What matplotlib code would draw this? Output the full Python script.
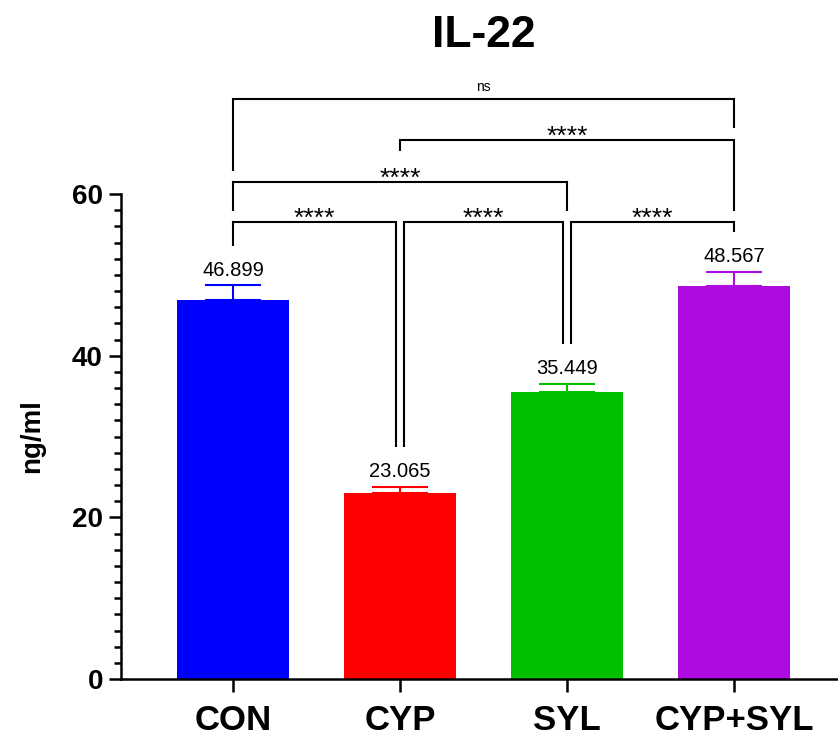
"""
    Bar chart of IL-22 levels (ng/ml) for four groups with
    significance brackets drawn between the groups.
"""

import numpy as np
import matplotlib
matplotlib.use("Agg")
import matplotlib.pyplot as plt
from matplotlib.ticker import MultipleLocator


plt.rcParams['font.family'] = ['Liberation Sans', 'DejaVu Sans']

# data
groups = ['CON', 'CYP', 'SYL', 'CYP+SYL']
means = [46.899, 23.065, 35.449, 48.567]
sds = [1.8, 0.7, 1.1, 1.8]
colors = ['#0000FF', '#FF0000', '#00C000', '#AD0BE0']

# comparisons and their labels
pairs = [(0, 1), (1, 2), (2, 3), (0, 2), (1, 3), (0, 3)]
stars = ['****', '****', '****', '****', '****', 'ns']

# bracket layout (heights in data units, leg offsets in bar units)
bracket_y = [56.5, 56.5, 56.5, 61.5, 66.7, 71.8]
upper_legs = {3: (57.9, 57.9), 4: (65.3, 57.9), 5: (62.9, 68.2)}
leg_shift = 0.024
leg_gap = 4.9


def draw_bracket(ax, x1, x2, y, b1, b2, label):
    """
    Draws one significance bracket from x1 to x2 at height y,
    with legs going down to b1 and b2, and the label above it.
    """
    ax.plot([x1, x1, x2, x2], [b1, y, y, b2], color='black', lw=1.5,
            clip_on=False, solid_joinstyle='miter', solid_capstyle='butt')
    if label == 'ns':
        ax.text((x1 + x2) / 2, y + 1.0, label, ha='center', va='baseline',
                fontsize=10, clip_on=False)
    else:
        ax.text((x1 + x2) / 2, y - 0.45, label, ha='center', va='baseline',
                fontsize=19, clip_on=False)


fig = plt.figure(figsize=(8.38, 7.4), dpi=100)
ax = fig.add_axes([0.1444, 0.0824, 0.8556, 0.6554])

x = np.arange(len(groups))
ax.bar(x, means, width=0.67, color=colors, zorder=2)
for xi, m, s, c in zip(x, means, sds, colors):
    ax.errorbar(xi, m, yerr=[[0], [s]], color=c, capsize=20, elinewidth=1.5,
                capthick=1.5, fmt='none', zorder=3)
    ax.annotate(f"{m:.3f}", (xi, m + s), xytext=(0, 4),
                textcoords='offset points', ha='center', va='bottom',
                fontsize=14.5)

# brackets
tops = [m + s + leg_gap for m, s in zip(means, sds)]
for k, ((i, j), lab) in enumerate(zip(pairs, stars)):
    if j - i == 1:
        x1, x2 = i + leg_shift * (i > 0), j - leg_shift * (j < 3)
        b1, b2 = tops[i], tops[j]
    else:
        x1, x2 = i, j
        b1, b2 = upper_legs[k]
    draw_bracket(ax, x1, x2, bracket_y[k], b1, b2, lab)

ax.set_xlim(-0.671, 3.623)
ax.set_ylim(0, 60)
ax.set_xticks(x)
ax.set_xticklabels(groups, fontsize=25, fontweight='bold')
ax.yaxis.set_major_locator(MultipleLocator(20))
ax.yaxis.set_minor_locator(MultipleLocator(2))
for lab in ax.get_yticklabels():
    lab.set_fontsize(20)
    lab.set_fontweight('bold')

ax.spines['top'].set_visible(False)
ax.spines['right'].set_visible(False)
ax.spines['left'].set_linewidth(1.8)
ax.spines['bottom'].set_linewidth(1.8)
ax.tick_params(axis='both', which='major', length=9, width=1.8)
ax.tick_params(axis='y', which='minor', length=5, width=1.8)
ax.tick_params(axis='y', which='major', pad=4)
ax.tick_params(axis='x', which='major', pad=9)

ax.set_ylabel('ng/ml', fontsize=20, fontweight='bold')
ax.yaxis.set_label_coords(-0.106, 0.5)

fig.text(0.5776, 0.9365, 'IL-22', ha='center', va='baseline',
         fontsize=32, fontweight='bold')

plt.savefig("out.png", dpi=100)
